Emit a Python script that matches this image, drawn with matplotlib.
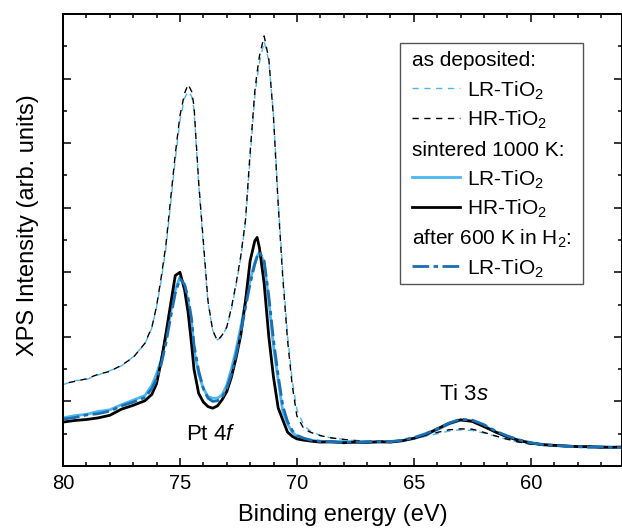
import matplotlib
matplotlib.use('Agg')
import matplotlib.pyplot as plt
from matplotlib.lines import Line2D
from matplotlib.patches import Rectangle
from matplotlib.ticker import MultipleLocator

plt.rcParams['font.family'] = ['Liberation Sans', 'DejaVu Sans']
plt.rcParams['mathtext.fontset'] = 'custom'
plt.rcParams['mathtext.rm'] = 'Liberation Sans'
plt.rcParams['mathtext.it'] = 'Liberation Sans:italic'
plt.rcParams['mathtext.bf'] = 'Liberation Sans:bold'

# Data, binding energy in eV
be = [80.0, 79.5, 79.0, 78.5, 78.0, 77.5, 77.0, 76.5, 76.2, 76.0, 75.8, 75.6,
      75.4, 75.2, 75.0, 74.8, 74.65, 74.5, 74.4, 74.2, 74.0, 73.8, 73.6, 73.4,
      73.2, 73.0, 72.8, 72.6, 72.4, 72.2, 72.0, 71.8, 71.7, 71.6, 71.4, 71.2,
      71.0, 70.8, 70.6, 70.4, 70.2, 70.0, 69.7, 69.4, 69.0, 68.5, 68.0, 67.5,
      67.0, 66.5, 66.0, 65.5, 65.0, 64.5, 64.0, 63.5, 63.0, 62.5, 62.0, 61.5,
      61.0, 60.5, 60.0, 59.5, 59.0, 58.5, 58.0, 57.5, 57.0, 56.5, 56.0]

# as deposited, LR-TiO2
lr_dep = [2.52, 2.64, 2.68, 2.82, 2.95, 3.10, 3.38, 3.78, 4.28, 4.92, 5.75, 6.75,
          8.10, 9.50, 10.70, 11.40, 11.60, 11.45, 11.05, 8.75, 6.85, 5.05, 4.20, 3.90,
          4.02, 4.30, 4.85, 5.60, 6.45, 7.55, 9.55, 11.45, 12.00, 12.50, 13.15, 12.55,
          10.85, 8.20, 5.95, 4.05, 2.65, 1.75, 1.25, 1.07, 0.95, 0.86, 0.83, 0.78,
          0.78, 0.76, 0.78, 0.79, 0.84, 0.92, 1.00, 1.08, 1.12, 1.10, 1.02, 0.92,
          0.82, 0.73, 0.67, 0.65, 0.61, 0.61, 0.59, 0.59, 0.56, 0.57, 0.57]
# as deposited, HR-TiO2
hr_dep = [2.55, 2.62, 2.70, 2.84, 2.93, 3.12, 3.36, 3.80, 4.30, 4.95, 5.85, 6.85,
          8.25, 9.65, 10.85, 11.55, 11.82, 11.60, 11.15, 8.80, 6.95, 5.10, 4.20, 3.88,
          4.05, 4.30, 4.90, 5.65, 6.50, 7.60, 9.70, 11.60, 12.20, 12.70, 13.32, 12.60,
          10.80, 8.10, 5.80, 3.90, 2.50, 1.55, 1.15, 1.04, 0.94, 0.87, 0.82, 0.79,
          0.77, 0.78, 0.77, 0.80, 0.86, 0.95, 1.04, 1.12, 1.15, 1.14, 1.04, 0.93,
          0.83, 0.74, 0.68, 0.64, 0.62, 0.60, 0.61, 0.58, 0.57, 0.58, 0.56]
# sintered 1000 K, LR-TiO2
lr_sin = [1.49, 1.56, 1.60, 1.69, 1.74, 1.90, 2.04, 2.18, 2.50, 2.85, 3.30, 3.95,
          4.75, 5.45, 5.85, 5.60, 5.10, 4.45, 3.60, 2.85, 2.40, 2.15, 2.10, 2.10,
          2.20, 2.50, 3.00, 3.60, 4.30, 5.05, 5.76, 6.30, 6.50, 6.63, 6.30, 5.10,
          3.70, 2.66, 1.68, 1.30, 1.05, 0.92, 0.84, 0.80, 0.77, 0.74, 0.76, 0.73,
          0.75, 0.74, 0.76, 0.79, 0.85, 0.96, 1.12, 1.30, 1.42, 1.40, 1.25, 1.06,
          0.92, 0.80, 0.72, 0.67, 0.63, 0.62, 0.60, 0.59, 0.60, 0.58, 0.58]
# sintered 1000 K, HR-TiO2
hr_sin = [1.36, 1.41, 1.44, 1.49, 1.57, 1.76, 1.88, 2.02, 2.22, 2.55, 3.25, 4.10,
          5.00, 5.90, 6.00, 5.45, 4.75, 3.75, 3.00, 2.25, 1.98, 1.84, 1.79, 1.86,
          2.05, 2.30, 2.75, 3.35, 4.05, 5.10, 6.35, 6.97, 7.08, 6.75, 5.65, 4.00,
          2.75, 1.80, 1.42, 1.05, 0.92, 0.84, 0.80, 0.77, 0.74, 0.75, 0.72, 0.74,
          0.73, 0.75, 0.74, 0.78, 0.86, 0.97, 1.15, 1.32, 1.43, 1.38, 1.22, 1.05,
          0.90, 0.79, 0.71, 0.66, 0.64, 0.62, 0.60, 0.60, 0.58, 0.58, 0.59]
# after 600 K in H2, LR-TiO2
lr_h2 = [1.45, 1.50, 1.58, 1.62, 1.70, 1.86, 1.98, 2.12, 2.40, 2.70, 3.15, 3.80,
         4.60, 5.35, 5.80, 5.62, 5.20, 4.55, 3.75, 2.95, 2.40, 2.10, 2.00, 2.02,
         2.12, 2.40, 2.85, 3.45, 4.15, 4.90, 5.65, 6.25, 6.48, 6.62, 6.35, 5.25,
         3.90, 2.80, 1.85, 1.38, 1.10, 0.95, 0.86, 0.80, 0.76, 0.75, 0.73, 0.75,
         0.74, 0.76, 0.75, 0.80, 0.88, 1.00, 1.15, 1.33, 1.45, 1.42, 1.28, 1.08,
         0.93, 0.81, 0.72, 0.66, 0.64, 0.61, 0.60, 0.58, 0.59, 0.57, 0.57]

LIGHT = '#4db5f0'
DARK = '#1a6fb3'

W, H = 622, 531
fig = plt.figure(figsize=(W / 100, H / 100), dpi=100)
ax = fig.add_axes([63 / W, 1 - 466 / H, 559 / W, 452 / H])

dash_lr = (0, (4.5, 4.0))
dash_hr = (4.25, (4.5, 4.0))
dashdot = (0, (6, 1.6, 1.6, 1.6))

ax.plot(be, lr_dep, color=LIGHT, lw=1.0, ls=dash_lr)
ax.plot(be, hr_dep, color='k', lw=1.0, ls=dash_hr)
ax.plot(be, lr_sin, color=LIGHT, lw=2.0)
ax.plot(be, hr_sin, color='k', lw=2.0)
ax.plot(be, lr_h2, color=DARK, lw=2.0, ls=dashdot)

ax.set_xlim(80, 56.1)
ax.set_ylim(0, 14)
ax.xaxis.set_major_locator(MultipleLocator(5))
ax.xaxis.set_minor_locator(MultipleLocator(1))
ax.yaxis.set_major_locator(MultipleLocator(2))
ax.yaxis.set_minor_locator(MultipleLocator(1))
ax.tick_params(which='both', direction='in', top=True, right=True, width=1.1,
               labelsize=14.5, pad=6, labelleft=False)
ax.tick_params(which='major', length=5.8)
ax.tick_params(which='minor', length=2.9)
for s in ax.spines.values():
    s.set_linewidth(1.45)

ax.set_xlabel('Binding energy (eV)', fontsize=17)
ax.set_ylabel('XPS Intensity (arb. units)', fontsize=17)
ax.xaxis.set_label_coords(0.501, -0.084)
ax.yaxis.set_label_coords(-0.043, 0.533)

ax.text(73.68, 0.80, 'Pt 4$f$', fontsize=16, ha='center', va='baseline')
ax.text(62.86, 2.04, 'Ti 3$s$', fontsize=16, ha='center', va='baseline')

# legend drawn by hand (section headers without handles)
def fxy(x, y):
    return x / W, 1 - y / H

fig.add_artist(Rectangle(fxy(400, 284), 183 / W, 241 / H, transform=fig.transFigure,
                         facecolor='white', edgecolor='#555555', lw=1.0, zorder=5))
leg_rows = [59, 89, 118.5, 148, 178, 207.5, 237.5, 267]
leg_labels = ['as deposited:', 'LR-TiO$_2$', 'HR-TiO$_2$', 'sintered 1000 K:',
              'LR-TiO$_2$', 'HR-TiO$_2$', 'after 600 K in H$_2$:', 'LR-TiO$_2$']
leg_styles = [None, (LIGHT, 1.0, dash_lr), ('k', 1.0, (0, (4.5, 4.0))), None,
              (LIGHT, 2.0, '-'), ('k', 2.0, '-'), None, (DARK, 2.0, dashdot)]
for yc, lab, st in zip(leg_rows, leg_labels, leg_styles):
    if st is None:
        tx = 412
    else:
        tx = 467
        x0, y0 = fxy(412, yc - 1)
        x1, _ = fxy(460, yc - 1)
        fig.add_artist(Line2D([x0, x1], [y0, y0], transform=fig.transFigure,
                              color=st[0], lw=st[1], ls=st[2], zorder=6))
    fx, fy = fxy(tx, yc + 7.5)
    fig.text(fx, fy, lab, fontsize=15, ha='left', va='baseline', zorder=6)

fig.savefig('out.png', dpi=100)
